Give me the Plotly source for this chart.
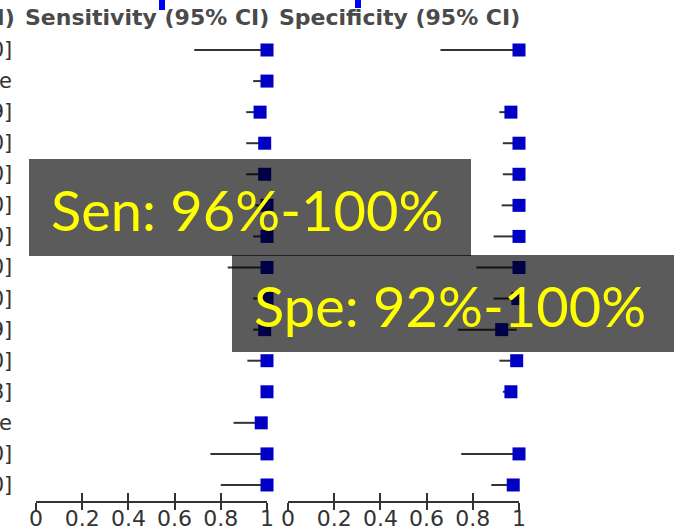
"""Forest plot of sensitivity / specificity with summary overlays"""

import plotly.graph_objects as go

W, H = 692, 529

# right-hand end of the clipped study column
row_labels = [
    "[0.69, 1.00]", "Not estimable", "[0.91, 0.99]", "[0.91, 1.00]", "[0.91, 1.00]",
    "[0.95, 1.00]", "[0.94, 1.00]", "[0.83, 1.00]", "[0.94, 1.00]", "[0.94, 0.99]",
    "[0.92, 1.00]", "[0.98, 0.98]", "Not estimable", "[0.75, 1.00]", "[0.80, 1.00]",
]
sens_point = [1.00, 1.00, 0.97, 0.99, 0.99, 1.00, 1.00, 1.00, 1.00, 0.99, 1.00, 1.00, 0.975, 1.00, 1.00]
sens_low = [0.685, 0.94, 0.91, 0.91, 0.91, 0.95, 0.94, 0.83, 0.94, 0.94, 0.915, 0.98, 0.855, 0.755, 0.80]
sens_high = [1.00, 1.00, 0.98, 1.00, 1.00, 1.00, 1.00, 1.00, 1.00, 1.00, 1.00, 1.00, 0.98, 1.00, 1.00]

spec_point = [1.00, None, 0.965, 1.00, 1.00, 1.00, 1.00, 1.00, 0.995, 0.925, 0.99, 0.965, None, 1.00, 0.975]
spec_low = [0.66, None, 0.915, 0.93, 0.93, 0.925, 0.89, 0.815, 0.89, 0.735, 0.915, 0.93, None, 0.75, 0.88]
spec_high = [1.00, None, 0.98, 1.00, 1.00, 1.00, 1.00, 1.00, 1.00, 0.99, 1.00, 0.98, None, 1.00, 0.99]

tick_vals = [0, 0.2, 0.4, 0.6, 0.8, 1]
tick_text = ["0", "0.2", "0.4", "0.6", "0.8", "1"]

headers = ["Sensitivity (95% CI)", "Specificity (95% CI)"]
summaries = ["Sen: 96%-100%", "Spe: 92%-100%"]

MARKER = "#0000c4"
INK = "#333333"


def px(x):
    return x / W


def py(y):
    return 1 - y / H


def forest_trace(points, lows, highs, xaxis):
    rows = [i for i, p in enumerate(points) if p is not None]
    return go.Scatter(
        x=[points[i] for i in rows],
        y=rows,
        xaxis=xaxis,
        yaxis="y",
        mode="markers",
        cliponaxis=False,
        showlegend=False,
        marker={"symbol": "square", "size": 13, "color": MARKER, "line": {"width": 0}},
        error_x={
            "type": "data",
            "symmetric": False,
            "array": [highs[i] - points[i] for i in rows],
            "arrayminus": [points[i] - lows[i] for i in rows],
            "color": INK,
            "thickness": 2,
            "width": 0,
        },
    )


n_rows = len(row_labels)
axis_y = 501
row_top, row_step = 50, 31.07

figure = go.Figure()
figure.add_trace(forest_trace(sens_point, sens_low, sens_high, "x"))
figure.add_trace(forest_trace(spec_point, spec_low, spec_high, "x2"))
# invisible traces so the downward-tick overlay axes get drawn
for ax in ["x3", "x4"]:
    figure.add_trace(go.Scatter(x=[0.5], y=[0], xaxis=ax, yaxis="y", mode="markers",
                                marker={"opacity": 0}, showlegend=False, hoverinfo="skip"))

base_axis = {
    "range": [0, 1],
    "showgrid": False,
    "zeroline": False,
    "showline": True,
    "linecolor": INK,
    "linewidth": 2,
    "tickvals": tick_vals,
    "ticktext": tick_text,
    "ticks": "inside",
    "ticklen": 8,
    "tickwidth": 2,
    "tickcolor": INK,
    "tickfont": {"family": "DejaVu Sans", "size": 22, "color": INK},
    "ticklabelstandoff": -3,
    "anchor": "y",
    "automargin": False,
}
left_dom = [px(36), px(267)]
right_dom = [px(288), px(519)]

plot_layout = {
    "width": W,
    "height": H,
    "autosize": False,
    "margin": {"l": 0, "r": 0, "t": 0, "b": 0, "pad": 0},
    "paper_bgcolor": "white",
    "plot_bgcolor": "white",
    "xaxis": {**base_axis, "domain": left_dom},
    "xaxis2": {**base_axis, "domain": right_dom},
    "xaxis3": {**base_axis, "domain": left_dom, "overlaying": "x", "ticks": "outside",
               "ticklen": 7, "showticklabels": False},
    "xaxis4": {**base_axis, "domain": right_dom, "overlaying": "x2", "ticks": "outside",
               "ticklen": 7, "showticklabels": False},
    "yaxis": {
        "domain": [py(axis_y), py(34)],
        "range": [n_rows - 1 + (axis_y - (row_top + row_step * (n_rows - 1))) / row_step,
                  -(row_top - 34) / row_step],
        "visible": False,
        "automargin": False,
    },
}

annotations = []
for i, label in enumerate(row_labels):
    annotations.append({
        "text": label, "xref": "paper", "yref": "y", "x": px(14), "y": i,
        "xanchor": "right", "yanchor": "middle", "showarrow": False,
        "font": {"family": "DejaVu Sans", "size": 21, "color": INK},
    })

header_font = {"family": "DejaVu Sans", "size": 22, "color": "#4a4a4a"}
for text, x0 in zip(["(95% CI)"] + headers, [17, 23, 277]):
    annotations.append({
        "text": f"<b>{text}</b>", "xref": "paper", "yref": "paper",
        "x": px(x0), "y": py(18), "xanchor": "right" if x0 == 17 else "left",
        "yanchor": "middle", "showarrow": False, "font": header_font,
    })

boxes = [(29, 159, 471, 256), (232, 255, 674, 352)]
shapes = []
for (x0, y0, x1, y1), text in zip(boxes, summaries):
    shapes.append({
        "type": "rect", "xref": "paper", "yref": "paper",
        "x0": px(x0), "x1": px(x1), "y0": py(y1), "y1": py(y0),
        "fillcolor": "rgba(0,0,0,0.645)", "line": {"width": 0}, "layer": "above",
    })
    annotations.append({
        "text": text, "xref": "paper", "yref": "paper",
        "x": px(x0 + 20), "y": py((y0 + y1) / 2 + 2), "xanchor": "left", "yanchor": "middle",
        "showarrow": False, "font": {"family": "Lato", "size": 56, "color": "#ffff00"},
    })

# clipped blue slide decorations at the very top
for x0, x1, y1 in [(159, 165, 10), (355, 361, 8)]:
    shapes.append({
        "type": "rect", "xref": "paper", "yref": "paper",
        "x0": px(x0), "x1": px(x1), "y0": py(y1), "y1": py(0),
        "fillcolor": "#0000ff", "line": {"width": 0}, "layer": "above",
    })

figure.update_layout(plot_layout)
figure.update_layout(annotations=annotations, shapes=shapes)

figure.write_html(
    "out.html",
    config={"displayModeBar": False},
    post_script="document.body.style.margin='0';document.body.style.overflow='hidden';",
)
